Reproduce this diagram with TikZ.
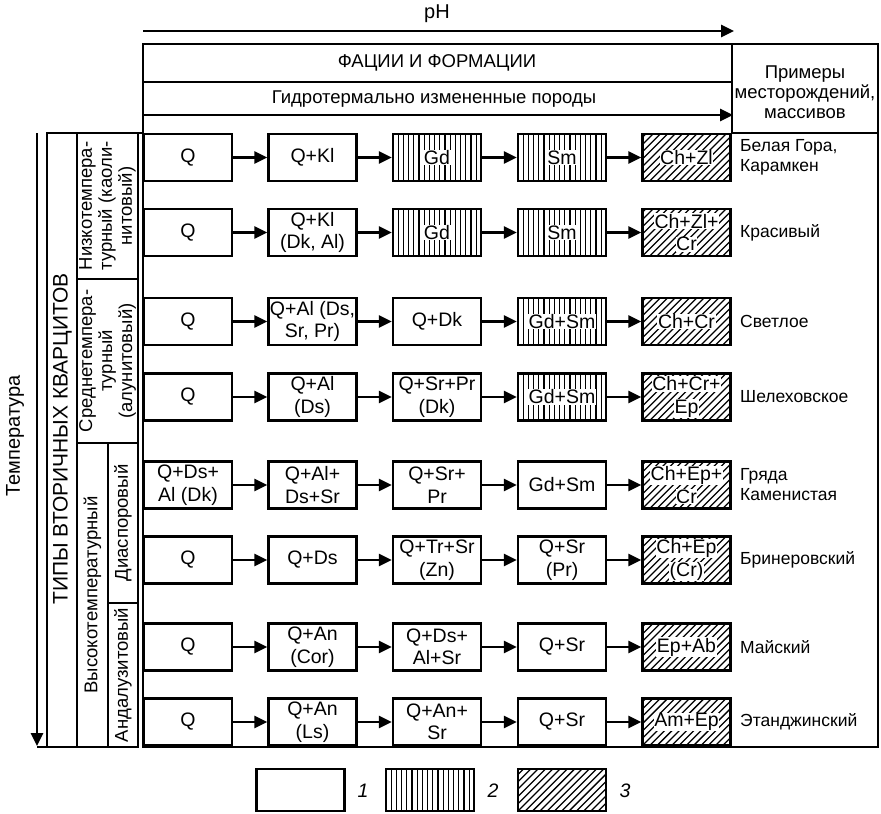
\documentclass[tikz,border=0pt]{standalone}
\usepackage{fontspec}
\setmainfont{Liberation Sans}
\usetikzlibrary{arrows.meta}
\newcommand\wbx[1]{{\setlength{\fboxsep}{0.6pt}\colorbox{white}{#1}}}
\tikzset{
  frame/.style={line width=2.6pt},
  box/.style={draw, line width=2.4pt, minimum width=88pt, minimum height=47pt, inner sep=0pt, align=center, font=\fontsize{19.5}{22.5}\selectfont},
  vh/.style={path picture={\foreach \k in {1,...,17}{\draw[line width=1.25pt] ([xshift=\k*5.2pt]path picture bounding box.north west) -- ([xshift=\k*5.2pt]path picture bounding box.south west);}}},
  dh/.style={path picture={\foreach \k in {-9,...,13}{\draw[line width=1.25pt] ([xshift=\k*7.3pt]path picture bounding box.south west) -- ([xshift=\k*7.3pt+70pt,yshift=70pt]path picture bounding box.south west);}}},
  arr/.style={line width=2.6pt, -{Triangle[length=13pt,width=12pt]}},
  ex/.style={anchor=west, align=left, inner sep=0pt, font=\fontsize{17.5}{20}\selectfont},
  hdr/.style={inner sep=0pt, align=center, font=\fontsize{18.5}{20}\selectfont},
  side/.style={rotate=90, inner sep=0pt, align=center, font=\fontsize{18.5}{20}\selectfont},
  leg/.style={inner sep=0pt, font=\fontsize{19.5}{22}\selectfont\itshape}
}
\begin{document}
\begin{tikzpicture}[x=1pt,y=-1pt]
\useasboundingbox (0,0) rectangle (881,814);
% frames
\draw[frame] (143,44) rectangle (878,747);
\draw[frame] (143,82) -- (732,82);
\draw[frame] (732,44) -- (732,133) -- (878,133);
\draw[frame] (47,133) rectangle (138,747);
\draw[frame] (138,133) -- (143,133);
\draw[frame] (77,133) -- (77,747);
\draw[frame] (77,279) -- (138,279);
\draw[frame] (77,443) -- (138,443);
\draw[frame] (108,443) -- (108,747);
\draw[frame] (108,603) -- (138,603);
\draw[frame] (37,747) -- (47,747);
% header arrows
\coordinate (ph0) at (143,31);
\coordinate (ph1) at (734,31);
\draw[arr] (ph0) -- (ph1);
\coordinate (gh0) at (143,115);
\coordinate (gh1) at (733,115);
\draw[arr] (gh0) -- (gh1);
\coordinate (t0) at (37,133);
\coordinate (t1) at (37,746);
\draw[arr] (t0) -- (t1);
% header text
\node[hdr, font=\fontsize{20}{22}\selectfont] (ph) at (437,14) {pH};
\node[hdr] (fac) at (437,63) {ФАЦИИ И ФОРМАЦИИ};
\node[hdr] (gid) at (434,99) {Гидротермально измененные породы};
\node[hdr] (prim) at (805,92) {Примеры\\месторождений,\\массивов};
% left texts
\node[side, font=\fontsize{20}{22}\selectfont] (temp) at (15,436) {Температура};
\node[side, font=\fontsize{21}{23}\selectfont] (tipy) at (62.5,439) {ТИПЫ ВТОРИЧНЫХ КВАРЦИТОВ};
\node[side] (nizk) at (107.5,206) {Низкотемпера-\\турный (каоли-\\нитовый)};
\node[side] (sred) at (107.5,361) {Среднетемпера-\\турный\\(алунитовый)};
\node[side] (vys) at (92.5,595) {Высокотемпературный};
\node[side] (dia) at (123,523) {Диаспоровый};
\node[side] (and) at (123,675) {Андалузитовый};
% row 1
\node[box] (a1) at (188,157.5) {Q};
\node[box] (b1) at (312.5,157.5) {Q+Kl};
\node[box,vh] (c1) at (437,157.5) {\wbx{Gd}};
\node[box,vh] (d1) at (562,157.5) {\wbx{Sm}};
\node[box,dh] (e1) at (686.5,157.5) {\wbx{Ch+Zl}};
\node[ex] (x1) at (740,157.5) {Белая Гора,\\Карамкен};
% row 2
\node[box] (a2) at (188,232.5) {Q};
\node[box] (b2) at (312.5,232.5) {Q+Kl\\(Dk, Al)};
\node[box,vh] (c2) at (437,232.5) {\wbx{Gd}};
\node[box,vh] (d2) at (562,232.5) {\wbx{Sm}};
\node[box,dh] (e2) at (686.5,232.5) {\wbx{Ch+Zl+}\\\wbx{Cr}};
\node[ex] (x2) at (740,232.5) {Красивый};
% row 3
\node[box] (a3) at (188,321.5) {Q};
\node[box] (b3) at (312.5,321.5) {Q+Al (Ds,\\Sr, Pr)};
\node[box] (c3) at (437,321.5) {Q+Dk};
\node[box,vh] (d3) at (562,321.5) {\wbx{Gd+Sm}};
\node[box,dh] (e3) at (686.5,321.5) {\wbx{Ch+Cr}};
\node[ex] (x3) at (740,321.5) {Светлое};
% row 4
\node[box] (a4) at (188,397) {Q};
\node[box] (b4) at (312.5,397) {Q+Al\\(Ds)};
\node[box] (c4) at (437,397) {Q+Sr+Pr\\(Dk)};
\node[box,vh] (d4) at (562,397) {\wbx{Gd+Sm}};
\node[box,dh] (e4) at (686.5,397) {\wbx{Ch+Cr+}\\\wbx{Ep}};
\node[ex] (x4) at (740,397) {Шелеховское};
% row 5
\node[box] (a5) at (188,485) {Q+Ds+\\Al (Dk)};
\node[box] (b5) at (312.5,485) {Q+Al+\\Ds+Sr};
\node[box] (c5) at (437,485) {Q+Sr+\\Pr};
\node[box] (d5) at (562,485) {Gd+Sm};
\node[box,dh] (e5) at (686.5,485) {\wbx{Ch+Ep+}\\\wbx{Cr}};
\node[ex] (x5) at (740,485) {Гряда\\Каменистая};
% row 6
\node[box] (a6) at (188,560) {Q};
\node[box] (b6) at (312.5,560) {Q+Ds};
\node[box] (c6) at (437,560) {Q+Tr+Sr\\(Zn)};
\node[box] (d6) at (562,560) {Q+Sr\\(Pr)};
\node[box,dh] (e6) at (686.5,560) {\wbx{Ch+Ep}\\\wbx{(Cr)}};
\node[ex] (x6) at (740,560) {Бринеровский};
% row 7
\node[box] (a7) at (188,647) {Q};
\node[box] (b7) at (312.5,647) {Q+An\\(Cor)};
\node[box] (c7) at (437,647) {Q+Ds+\\Al+Sr};
\node[box] (d7) at (562,647) {Q+Sr};
\node[box,dh] (e7) at (686.5,647) {\wbx{Ep+Ab}};
\node[ex] (x7) at (740,647) {Майский};
% row 8
\node[box] (a8) at (188,722) {Q};
\node[box] (b8) at (312.5,722) {Q+An\\(Ls)};
\node[box] (c8) at (437,722) {Q+An+\\Sr};
\node[box] (d8) at (562,722) {Q+Sr};
\node[box,dh] (e8) at (686.5,722) {\wbx{Am+Ep}};
\node[ex] (x8) at (740,722) {Этанджинский};
% arrows
\foreach \r in {1,...,8}{
  \draw[arr] (a\r) -- (b\r);
  \draw[arr] (b\r) -- (c\r);
  \draw[arr] (c\r) -- (d\r);
  \draw[arr] (d\r) -- (e\r);
}
% legend
\node[box, minimum height=42pt] (l1) at (300.5,790) {};
\node[box, minimum height=42pt, vh] (l2) at (430,790) {};
\node[box, minimum height=42pt, dh] (l3) at (562,790) {};
\node[leg] (n1) at (363,791) {1};
\node[leg] (n2) at (493,791) {2};
\node[leg] (n3) at (625,791) {3};
\end{tikzpicture}
\end{document}
